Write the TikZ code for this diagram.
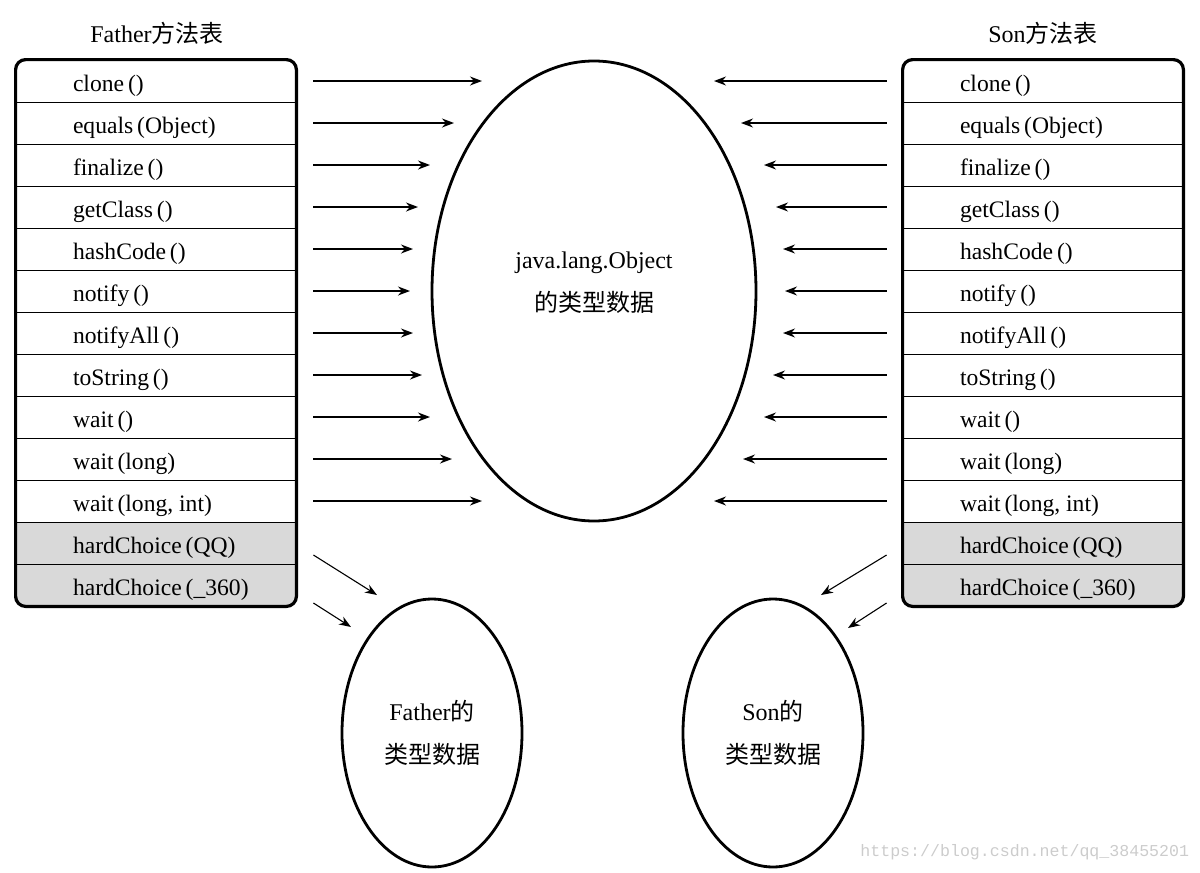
\documentclass[tikz,border=0pt]{standalone}
\usepackage{fontspec}
\setmainfont{Liberation Serif}
\setmonofont{Liberation Mono}
\newfontfamily\cjk{Noto Sans CJK SC}
\usepackage{tikz}
\usetikzlibrary{arrows.meta,shapes.geometric,backgrounds}

\begin{document}
\begin{tikzpicture}[x=0.5pt, y=-0.5pt, >={Stealth[length=6pt,width=4.5pt]},
    meth/.style={minimum width=140pt, minimum height=21pt, inner sep=0, text height=12pt, text depth=1.6pt, font=\fontsize{11.8}{14}\selectfont},
    call/.style={->, line width=0.7pt},
    blob/.style={ellipse, draw, line width=1.4pt, inner sep=0, align=center, font=\fontsize{12}{21.5}\selectfont}]
    \useasboundingbox (0,0) rectangle (1200,873);

    % Titles
    \node[font=\fontsize{12}{14}\selectfont] (ftitle) at (157,33) {Father{\cjk 方法表}};
    \node[font=\fontsize{12}{14}\selectfont] (stitle) at (1043,33) {Son{\cjk 方法表}};

    % Method tables
    \foreach \m [count=\i] in {clone\,(), equals\,(Object), finalize\,(), getClass\,(), hashCode\,(), notify\,(), notifyAll\,(), toString\,(), wait\,(), wait\,(long), {wait\,(long, int)}, hardChoice\,(QQ), hardChoice\,(\_360)} {
        \node[meth] (f\i) at (156,39+42*\i) {\makebox[140pt][l]{\hspace{28.5pt}\m}};
        \node[meth] (s\i) at (1043,39+42*\i) {\makebox[140pt][l]{\hspace{28.5pt}\m}};
    }
    \begin{scope}[on background layer]
        \foreach \t in {f,s} {
            \begin{scope}
                \clip[rounded corners=5pt] (\t1.north west) rectangle (\t13.south east);
                \fill[gray!30] (\t12.north west) rectangle (\t13.south east);
            \end{scope}
        }
    \end{scope}
    \foreach \t in {f,s} {
        \foreach \i in {1,...,12}
            \draw[line width=0.7pt] (\t\i.south west) -- (\t\i.south east);
        \draw[line width=1.6pt, rounded corners=5pt] (\t1.north west) rectangle (\t13.south east);
    }

    % Type data
    \node[blob, minimum width=162pt, minimum height=230pt,
        label={[align=center, font=\fontsize{12}{21.5}\selectfont, yshift=4pt]center:java.lang.Object\\{\cjk 的类型数据}}] (obj) at (594,291) {};
    \node[blob, minimum width=90pt, minimum height=134pt] (fdata) at (432,733) {Father{\cjk 的}\\{\cjk 类型数据}};
    \node[blob, minimum width=90pt, minimum height=134pt] (sdata) at (773,733) {Son{\cjk 的}\\{\cjk 类型数据}};

    % Inherited methods point to Object
    \foreach \x [count=\i] in {482,454,430,418,413,410,413,422,430,452,482}
        \coordinate (fe\i) at (\x,39+42*\i);
    \foreach \x [count=\i] in {714,741,764,776,783,785,783,773,764,743,714}
        \coordinate (se\i) at (\x,39+42*\i);
    \foreach \i in {1,...,11} {
        \draw[call] ([xshift=8.5pt]f\i.east) -- (fe\i);
        \draw[call] ([xshift=-8pt]s\i.west) -- (se\i);
    }

    % Own methods point to own type
    \coordinate (fd1) at (377,595);
    \coordinate (fd2) at (351,627);
    \coordinate (sd1) at (821,595);
    \coordinate (sd2) at (848,628);
    \draw[call, line width=0.55pt] ([xshift=8.5pt,yshift=-6pt]f12.east) -- (fd1);
    \draw[call, line width=0.55pt] ([xshift=8.5pt,yshift=-9pt]f13.east) -- (fd2);
    \draw[call, line width=0.55pt] ([xshift=-8pt,yshift=-6pt]s12.west) -- (sd1);
    \draw[call, line width=0.55pt] ([xshift=-8pt,yshift=-9pt]s13.west) -- (sd2);

    % Watermark
    \node[font=\ttfamily\fontsize{8.3}{10}\selectfont, text=gray!40, anchor=west, inner sep=0] (mark) at (860,852) {https://blog.csdn.net/qq\_38455201};
\end{tikzpicture}
\end{document}
